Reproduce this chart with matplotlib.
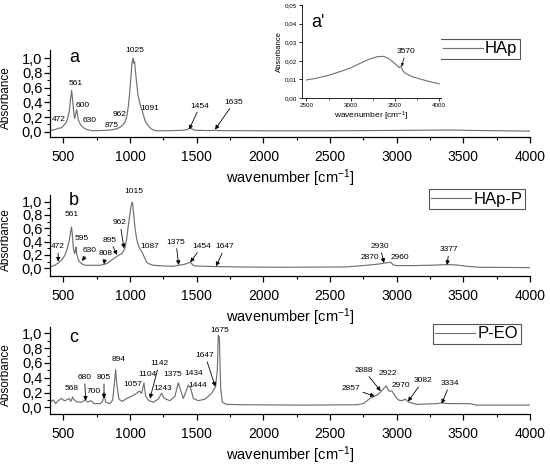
import matplotlib
matplotlib.use("Agg")
import matplotlib.pyplot as plt
from matplotlib.ticker import MultipleLocator, FixedLocator, FuncFormatter

plt.rcParams['font.family'] = 'Liberation Sans'
plt.rcParams['mathtext.fontset'] = 'custom'
plt.rcParams['mathtext.rm'] = 'Liberation Sans'
plt.rcParams['mathtext.it'] = 'Liberation Sans:italic'

# ---- data ----
hap_wn = [400, 440, 462, 480, 500, 520, 532, 545, 552, 558, 562, 566, 572, 580, 585, 592, 600,
          606, 612, 625, 637, 655, 675, 712, 775, 820, 862, 900, 925, 945, 962, 975, 987, 997,
          1007, 1014, 1020, 1025, 1030, 1034, 1040, 1050, 1060, 1072, 1082, 1091, 1100, 1115,
          1137, 1155, 1175, 1200, 1300, 1400, 1430, 1445, 1454, 1465, 1490, 1600, 1635, 1660,
          2000, 2500, 3000, 3400, 3570, 4000]
hap_abs = [0.015, 0.03, 0.047, 0.05, 0.08, 0.12, 0.18, 0.28, 0.41, 0.50, 0.56, 0.50, 0.38, 0.24,
           0.18, 0.24, 0.30, 0.24, 0.16, 0.11, 0.08, 0.05, 0.03, 0.015, 0.015, 0.02, 0.025, 0.04,
           0.06, 0.09, 0.13, 0.20, 0.34, 0.52, 0.75, 0.92, 0.98, 1.0, 0.93, 0.95, 0.84, 0.66,
           0.50, 0.40, 0.33, 0.29, 0.23, 0.14, 0.08, 0.045, 0.023, 0.012, 0.014, 0.02, 0.03,
           0.045, 0.05, 0.035, 0.02, 0.015, 0.02, 0.015, 0.012, 0.012, 0.018, 0.023, 0.017, 0.008]

happ_wn = [400, 430, 463, 490, 513, 530, 545, 555, 561, 567, 575, 585, 590, 595, 600, 612, 625,
           645, 663, 700, 775, 808, 825, 860, 888, 910, 938, 955, 963, 975, 988, 1000, 1008,
           1015, 1020, 1028, 1038, 1050, 1063, 1075, 1088, 1100, 1125, 1150, 1175, 1250, 1325,
           1363, 1400, 1425, 1445, 1454, 1470, 1490, 1560, 1650, 1800, 2125, 2625, 2775, 2850,
           2870, 2900, 2930, 2955, 2975, 3000, 3125, 3250, 3377, 3450, 3525, 3625, 4000]
happ_abs = [0.02, 0.04, 0.08, 0.13, 0.20, 0.30, 0.42, 0.55, 0.62, 0.52, 0.30, 0.22, 0.26, 0.32,
            0.22, 0.13, 0.09, 0.06, 0.045, 0.045, 0.045, 0.06, 0.07, 0.12, 0.16, 0.19, 0.22,
            0.27, 0.32, 0.44, 0.65, 0.82, 0.93, 0.99, 0.97, 0.80, 0.60, 0.44, 0.34, 0.29, 0.25,
            0.20, 0.09, 0.06, 0.045, 0.035, 0.03, 0.045, 0.055, 0.07, 0.085, 0.09, 0.05, 0.035,
            0.03, 0.025, 0.02, 0.015, 0.02, 0.045, 0.06, 0.065, 0.075, 0.085, 0.09, 0.05, 0.04,
            0.04, 0.045, 0.055, 0.05, 0.03, 0.015, 0.01]

peo_wn = [400, 425, 442, 462, 487, 507, 525, 542, 557, 570, 582, 600, 637, 662, 682, 707, 732,
          775, 795, 805, 817, 850, 870, 882, 892, 902, 917, 942, 975, 1012, 1050, 1070, 1087,
          1105, 1117, 1142, 1175, 1212, 1237, 1257, 1300, 1337, 1362, 1382, 1400, 1425, 1437,
          1455, 1475, 1512, 1562, 1612, 1642, 1655, 1662, 1670, 1680, 1692, 1725, 1862, 2300,
          2700, 2750, 2800, 2857, 2890, 2922, 2940, 2965, 2990, 3012, 3040, 3065, 3090, 3150,
          3300, 3334, 3400, 3550, 3600, 4000]
peo_abs = [0.07, 0.10, 0.05, 0.09, 0.12, 0.09, 0.10, 0.12, 0.08, 0.14, 0.10, 0.075, 0.07, 0.10,
           0.07, 0.09, 0.05, 0.05, 0.08, 0.20, 0.07, 0.05, 0.10, 0.30, 0.51, 0.30, 0.11, 0.08,
           0.12, 0.15, 0.19, 0.22, 0.19, 0.33, 0.15, 0.09, 0.07, 0.11, 0.19, 0.12, 0.09, 0.15,
           0.33, 0.22, 0.12, 0.24, 0.30, 0.26, 0.12, 0.09, 0.11, 0.19, 0.28, 0.50, 0.97, 0.95,
           0.26, 0.07, 0.04, 0.035, 0.03, 0.035, 0.05, 0.12, 0.17, 0.23, 0.29, 0.22, 0.22, 0.15,
           0.10, 0.09, 0.11, 0.07, 0.04, 0.05, 0.06, 0.05, 0.05, 0.03, 0.03]

inset_wn = [2500, 2600, 2750, 2900, 3000, 3100, 3200, 3300, 3370, 3430, 3500, 3550, 3570, 3585,
            3620, 3700, 3800, 3900, 4000]
inset_abs = [0.0097, 0.0105, 0.0122, 0.0145, 0.0162, 0.0185, 0.0207, 0.0222, 0.0224, 0.0212,
             0.0185, 0.0163, 0.0172, 0.0148, 0.0132, 0.0114, 0.0100, 0.0087, 0.0076]

# peak labels: (text, label x, label y, arrow tip x, arrow tip y)  -- tip None = no arrow
hap_labels = [("472", 468, 0.17, None, None), ("561", 595, 0.66, None, None),
              ("600", 648, 0.36, None, None), ("630", 700, 0.15, None, None),
              ("875", 865, 0.09, None, None), ("962", 918, 0.23, None, None),
              ("1025", 1038, 1.11, None, None), ("1091", 1150, 0.32, None, None),
              ("1454", 1525, 0.35, 1443, 0.03), ("1635", 1780, 0.40, 1638, 0.03)]
happ_labels = [("472", 460, 0.32, 462, 0.10), ("561", 565, 0.80, None, None),
               ("595", 640, 0.44, None, None), ("630", 698, 0.27, 640, 0.11),
               ("808", 815, 0.22, 805, 0.06), ("895", 850, 0.42, 903, 0.20),
               ("962", 925, 0.68, 955, 0.30), ("1015", 1030, 1.16, None, None),
               ("1087", 1150, 0.33, None, None), ("1375", 1345, 0.39, 1365, 0.05),
               ("1454", 1540, 0.33, 1452, 0.09), ("1647", 1713, 0.32, 1645, 0.03),
               ("2870", 2800, 0.155, None, None), ("2930", 2875, 0.33, 2905, 0.08),
               ("2960", 3025, 0.155, None, None), ("3377", 3393, 0.275, 3378, 0.05)]
peo_labels = [("568", 565, 0.25, None, None), ("680", 659, 0.40, 668, 0.09),
              ("700", 728, 0.21, None, None), ("805", 805, 0.40, 805, 0.12),
              ("894", 914, 0.64, None, None), ("1057", 1023, 0.31, None, None),
              ("1104", 1128, 0.44, None, None), ("1142", 1218, 0.59, 1150, 0.12),
              ("1375", 1323, 0.44, None, None), ("1243", 1248, 0.26, None, None),
              ("1434", 1480, 0.46, None, None), ("1444", 1510, 0.29, None, None),
              ("1647", 1563, 0.70, 1640, 0.28), ("1675", 1675, 1.04, None, None),
              ("2857", 2655, 0.26, 2835, 0.15), ("2888", 2755, 0.50, 2880, 0.22),
              ("2922", 2935, 0.46, None, None), ("2970", 3033, 0.29, None, None),
              ("3082", 3198, 0.36, 3085, 0.08), ("3334", 3400, 0.32, 3338, 0.05)]

line_col = '#707070'
comma1 = FuncFormatter(lambda v, p: f"{v:.1f}".replace('.', ','))
comma2 = FuncFormatter(lambda v, p: f"{v:.2f}".replace('.', ','))

fig = plt.figure(figsize=(5.5, 4.65), dpi=100)


def make_panel(rect, ylim, wn, ab, name, letter, letter_y, labels, leg_anchor):
    ax = fig.add_axes(rect)
    ax.plot(wn, ab, color=line_col, lw=0.85, label=name)
    ax.set_xlim(400, 4000)
    ax.set_ylim(*ylim)
    for s in ['top', 'right']:
        ax.spines[s].set_visible(False)
    for s in ['left', 'bottom']:
        ax.spines[s].set_linewidth(0.9)
    ax.xaxis.set_major_locator(MultipleLocator(500))
    ax.xaxis.set_minor_locator(MultipleLocator(250))
    ax.yaxis.set_major_locator(FixedLocator([0, 0.2, 0.4, 0.6, 0.8, 1.0]))
    ax.yaxis.set_minor_locator(FixedLocator([0.1, 0.3, 0.5, 0.7, 0.9]))
    ax.yaxis.set_major_formatter(comma1)
    ax.tick_params(which='major', direction='out', length=4, width=0.9)
    ax.tick_params(which='minor', direction='out', length=2.5, width=0.8)
    ax.tick_params(axis='x', labelsize=10, pad=5)
    ax.tick_params(axis='y', labelsize=10.5, pad=1.5)
    ax.set_xlabel('wavenumber [cm$^{-1}$]', fontsize=10.5, labelpad=3)
    ax.set_ylabel('Absorbance', fontsize=8.5)
    ax.yaxis.set_label_coords(-0.08, 0.45)
    ax.text(0.04, letter_y, letter, transform=ax.transAxes, fontsize=13, ha='left')
    for t, tx, ty, px, py in labels:
        if px is None:
            ax.text(tx, ty, t, fontsize=6, ha='center', va='center')
        else:
            ax.annotate(t, xy=(px, py), xytext=(tx, ty), fontsize=6, ha='center', va='center',
                        arrowprops=dict(arrowstyle='-|>', color='k', lw=0.6,
                                        mutation_scale=6, shrinkA=0, shrinkB=0))
    leg = ax.legend(loc='upper right', bbox_to_anchor=leg_anchor, bbox_transform=fig.transFigure,
                    fontsize=12, handlelength=2.4, handletextpad=0.15, borderpad=0.15,
                    borderaxespad=0, fancybox=False, framealpha=1, edgecolor='#555555')
    leg.get_frame().set_linewidth(0.8)
    return ax


W, H = 550.0, 465.0
L, R = 50 / W, 480 / W
make_panel([L, 1 - 137 / H, R, 87 / H], (-0.072, 1.113), hap_wn, hap_abs, 'HAp', 'a', 0.86,
           hap_labels, (520 / W, 1 - 39 / H))
make_panel([L, 1 - 276 / H, R, 81 / H], (-0.116, 1.10), happ_wn, happ_abs, 'HAp-P', 'b', 0.88,
           happ_labels, (525 / W, 1 - 189 / H))
make_panel([L, 1 - 414 / H, R, 87 / H], (-0.09, 1.085), peo_wn, peo_abs, 'P-EO', 'c', 0.83,
           peo_labels, (521 / W, 1 - 324 / H))

# inset a'
ins = fig.add_axes([302 / W, 1 - 98 / H, 139 / W, 93 / H])
ins.plot(inset_wn, inset_abs, color=line_col, lw=0.8)
ins.set_xlim(2450, 4020)
ins.set_ylim(0, 0.05)
for s in ['top', 'right']:
    ins.spines[s].set_visible(False)
for s in ['left', 'bottom']:
    ins.spines[s].set_linewidth(0.6)
ins.xaxis.set_major_locator(FixedLocator([2500, 3000, 3500, 4000]))
ins.xaxis.set_minor_locator(FixedLocator([2750, 3250, 3750]))
ins.yaxis.set_major_locator(MultipleLocator(0.01))
ins.yaxis.set_major_formatter(comma2)
ins.tick_params(which='major', direction='out', length=2, width=0.6, labelsize=4.5, pad=1.5)
ins.tick_params(which='minor', direction='out', length=1.2, width=0.5)
ins.set_xlabel('wavenumber [cm$^{-1}$]', fontsize=6, labelpad=1.5)
ins.set_ylabel('Absorbance', fontsize=5.5, labelpad=1.5)
ins.text(2560, 0.038, "a'", fontsize=13)
ins.annotate('3570', xy=(3576, 0.0170), xytext=(3622, 0.025), fontsize=6, ha='center', va='center',
             arrowprops=dict(arrowstyle='-|>', color='k', lw=0.5, mutation_scale=4,
                             shrinkA=0, shrinkB=0))

fig.savefig('out.png', dpi=100)
